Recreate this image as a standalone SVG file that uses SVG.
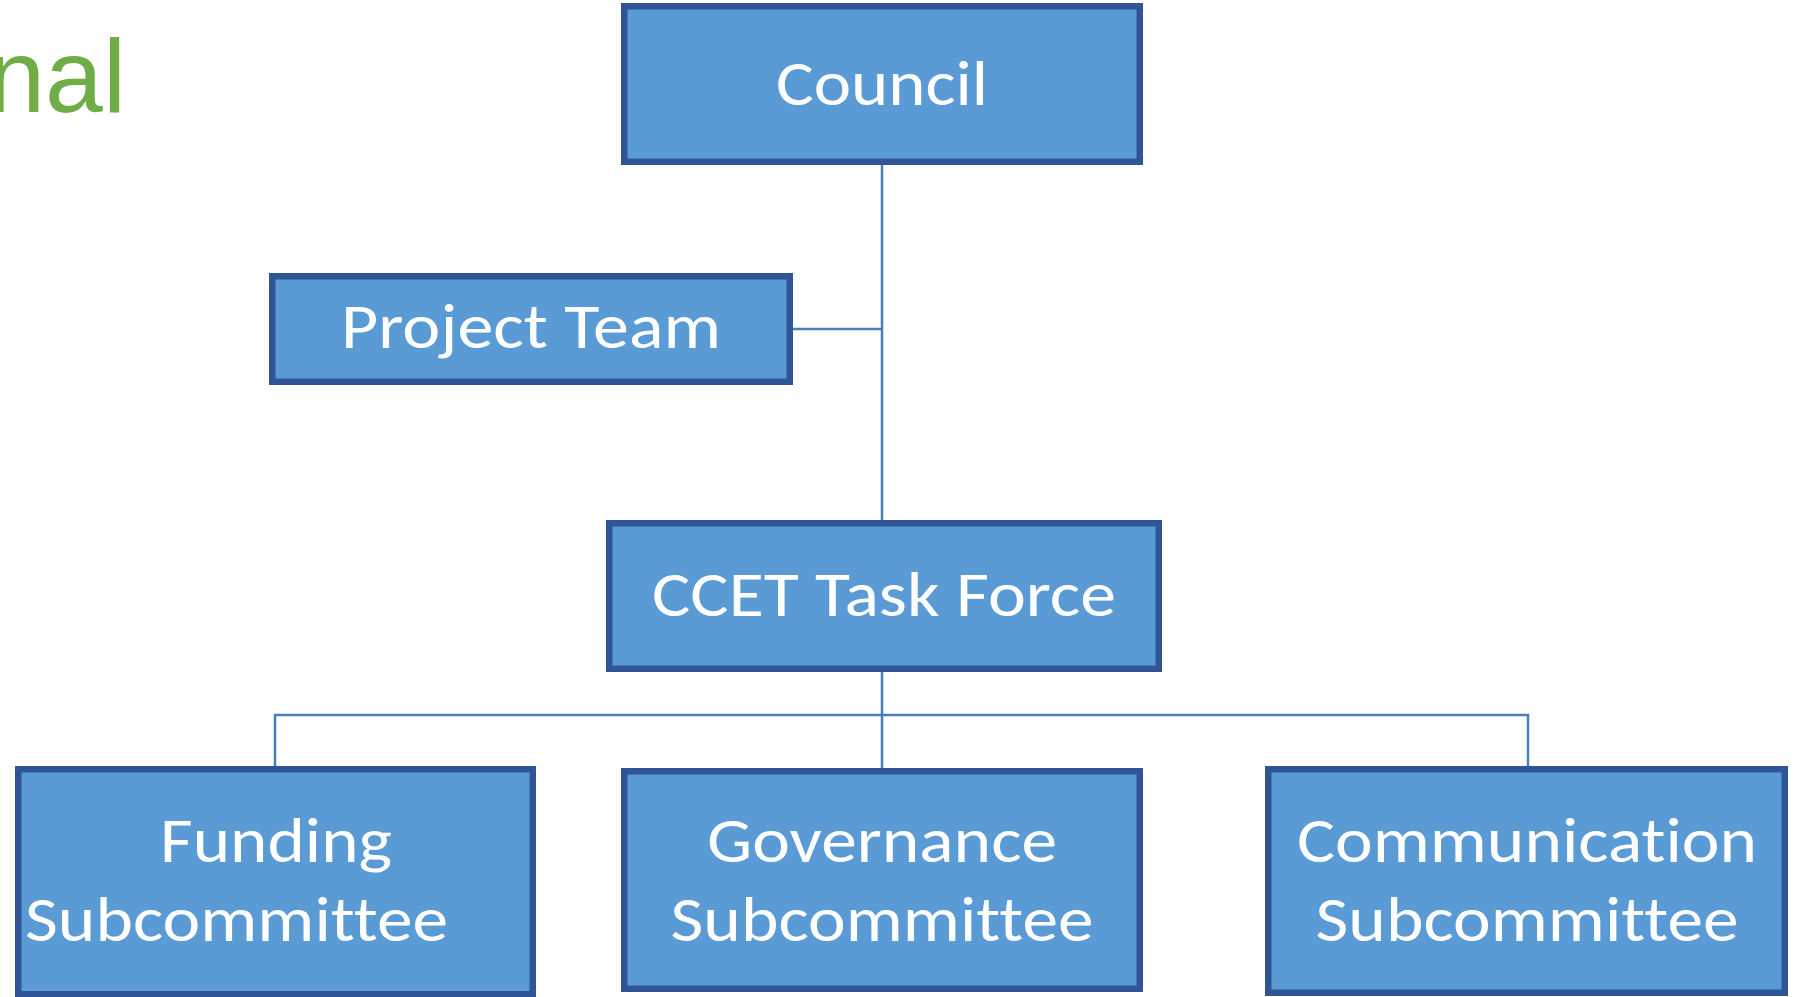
<svg xmlns="http://www.w3.org/2000/svg" width="1797" height="997" viewBox="0 0 1797 997">
  <style>
    .box { fill: #5B9BD5; stroke: #2F5597; stroke-width: 6.5; }
    .lbl { fill: #FFFFFF; font-family: "Carlito", "Calibri", "Open Sans", sans-serif; font-size: 64px; font-variant-ligatures: none; font-feature-settings: "liga" 0, "clig" 0; }
    .conn { fill: none; stroke: #4A7EBB; stroke-width: 2.5; }
    .title { fill: #70AD47; font-family: "Liberation Sans", Arial, sans-serif; font-size: 104px; }
  </style>
  <rect width="1797" height="997" fill="#FFFFFF"/>
  <text class="title" x="126" y="112" text-anchor="end">nal</text>

  <g id="connectors">
    <path class="conn" d="M882 165 V520"/>
    <path class="conn" d="M793 329 H882"/>
    <path class="conn" d="M882 672 V768"/>
    <path class="conn" d="M275 766 V715 H1528 V766"/>
  </g>

  <g id="council">
    <rect class="box" x="624.25" y="6.25" width="515.5" height="155.5"/>
    <text class="lbl" x="882" y="105" text-anchor="middle" textLength="212" lengthAdjust="spacingAndGlyphs">Council</text>
  </g>

  <g id="project-team">
    <rect class="box" x="272.25" y="276.25" width="517.5" height="105.5"/>
    <text class="lbl" x="531" y="348" text-anchor="middle" textLength="380" lengthAdjust="spacingAndGlyphs">Project Team</text>
  </g>

  <g id="ccet-task-force">
    <rect class="box" x="609.25" y="523.25" width="549.5" height="145.5"/>
    <text class="lbl" x="884" y="616" text-anchor="middle" textLength="464" lengthAdjust="spacingAndGlyphs">CCET Task Force</text>
  </g>

  <g id="funding-subcommittee">
    <rect class="box" x="18.25" y="769.25" width="514.5" height="225"/>
    <text class="lbl" x="276" y="862" text-anchor="middle" textLength="232" lengthAdjust="spacingAndGlyphs">Funding</text>
    <text class="lbl" x="25" y="941" textLength="423" lengthAdjust="spacingAndGlyphs">Subcommittee</text>
  </g>

  <g id="governance-subcommittee">
    <rect class="box" x="624.25" y="771.25" width="515.5" height="217.5"/>
    <text class="lbl" x="882" y="862" text-anchor="middle" textLength="350" lengthAdjust="spacingAndGlyphs">Governance</text>
    <text class="lbl" x="882" y="941" text-anchor="middle" textLength="423" lengthAdjust="spacingAndGlyphs">Subcommittee</text>
  </g>

  <g id="communication-subcommittee">
    <rect class="box" x="1268.25" y="769.25" width="516.5" height="223.5"/>
    <text class="lbl" x="1527" y="862" text-anchor="middle" textLength="460" lengthAdjust="spacingAndGlyphs">Communication</text>
    <text class="lbl" x="1527" y="941" text-anchor="middle" textLength="423" lengthAdjust="spacingAndGlyphs">Subcommittee</text>
  </g>
</svg>
